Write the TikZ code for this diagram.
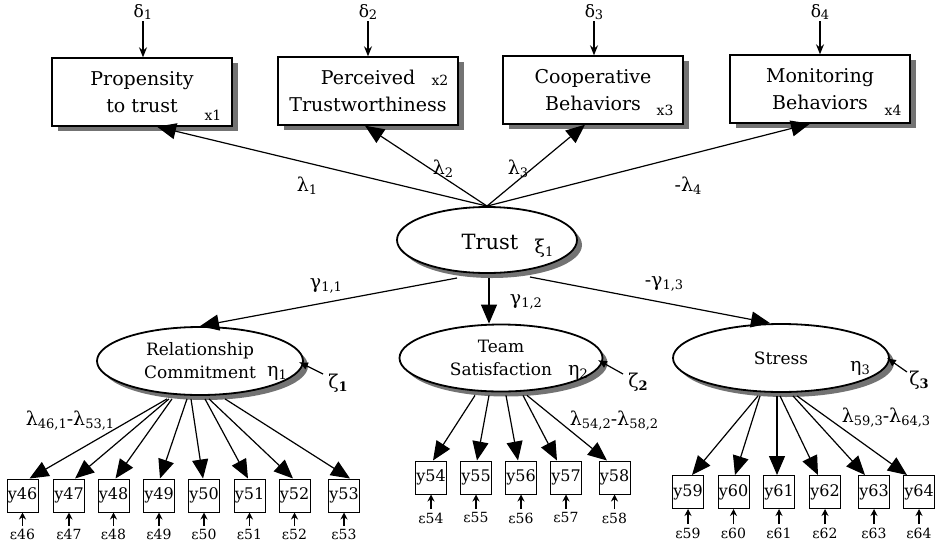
\documentclass[tikz,border=0pt]{standalone}
\usepackage{fontspec}
\setmainfont{DejaVu Serif}
\usetikzlibrary{arrows.meta,shapes.geometric,shadows,calc}
% lowered, smaller index after a Greek letter
\newcommand\lsub[1]{\raisebox{-0.3ex}{\fontsize{13}{13}\selectfont #1}}

\begin{document}
\begin{tikzpicture}[x=1pt,y=-1pt,
  obs/.style={draw, line width=1.4pt, fill=white, minimum width=180pt,
    minimum height=68pt, align=center, inner sep=0pt,
    font=\fontsize{19}{27}\selectfont,
    drop shadow={shadow xshift=6pt, shadow yshift=-5pt, fill=black!55, opacity=1}},
  lat/.style={ellipse, draw, line width=1.8pt, fill=white, inner sep=0pt,
    align=center, font=\fontsize{17}{23}\selectfont,
    drop shadow={shadow xshift=5pt, shadow yshift=-5pt, fill=black!55, opacity=1}},
  ind/.style={draw, line width=1pt, fill=white, minimum width=31pt,
    minimum height=33pt, inner sep=0pt, font=\fontsize{16}{16}\selectfont},
  err/.style={inner sep=0pt, font=\fontsize{14}{14}\selectfont},
  coef/.style={inner sep=0pt, font=\fontsize{19}{19}\selectfont},
  greek/.style={inner sep=0pt, font=\fontsize{19}{19}\selectfont},
  small/.style={inner sep=0pt, font=\fontsize{14}{14}\selectfont},
  load/.style={line width=1.2pt, -{Triangle[length=19pt,width=16pt]}},
  darr/.style={line width=1.1pt, -{Stealth[length=10pt,width=8pt]}},
  earr/.style={line width=1.1pt, -{Stealth[length=7pt,width=7pt]}},
  zarr/.style={line width=1.2pt, -{Latex[length=9pt,width=8pt]}}
]
\useasboundingbox (0,0) rectangle (940,544);

% observed trust indicators
\node[obs] (b1) at (142,92) {Propensity\\to trust};
\node[obs] (b2) at (368,91) {Perceived\\Trustworthiness};
\node[obs] (b3) at (593,90) {Cooperative\\Behaviors};
\node[obs] (b4) at (820,89) {Monitoring\\Behaviors};
\node[small] (x1) at (213,115) {x1};
\node[small] (x2) at (440,80) {x2};
\node[small] (x3) at (665,110) {x3};
\node[small] (x4) at (893,110) {x4};

% measurement errors of the indicators
\foreach \i/\x in {1/143,2/368,3/594,4/820}{
  \node[inner sep=1pt, font=\fontsize{17}{17}\selectfont] (d\i) at (\x,12) {δ\lsub{\i}};
  \draw[darr] (d\i.south) -- (d\i.south |- b\i.north);
}

% latent variables
\node[lat, minimum width=180pt, minimum height=66pt] (trust) at (487,240) {};
\node[inner sep=0pt, font=\fontsize{21}{21}\selectfont] (trusttxt) at (490,242) {Trust};
\node[greek] (xi) at (544,248) {ξ\lsub{1}};

\node[lat, minimum width=206pt, minimum height=68pt] (rc) at (200,361) {Relationship\\Commitment};
\node[lat, minimum width=203pt, minimum height=67pt] (team) at (501,358) {Team\\Satisfaction};
\node[lat, minimum width=216pt, minimum height=68pt] (stress) at (781,358) {Stress};

\node[greek] (eta1) at (277,373) {η\lsub{1}};
\node[greek] (eta2) at (578,372) {η\lsub{2}};
\node[greek] (eta3) at (860,368) {η\lsub{3}};

\node[greek] (z1) at (338,383) {ζ\raisebox{-0.3ex}{\fontsize{13}{13}\selectfont\bfseries 1}};
\node[greek] (z2) at (638,382) {ζ\raisebox{-0.3ex}{\fontsize{13}{13}\selectfont\bfseries 2}};
\node[greek] (z3) at (919,380) {ζ\raisebox{-0.3ex}{\fontsize{13}{13}\selectfont\bfseries 3}};
\draw[zarr] ($(z1)+(-15,-9)$) -- ($(rc)+(99,1)$);
\draw[zarr] ($(z2)+(-15,-8)$) -- ($(team)+(97,2)$);
\draw[zarr] ($(z3)+(-12,-8)$) -- ($(stress)+(106,0)$);

% loadings of the trust indicators
\draw[load] (trust.north) -- ([xshift=15pt]b1.south);
\draw[load] (trust.north) -- ([xshift=-3pt]b2.south);
\draw[load] (trust.north) -- ([xshift=-8pt]b3.south);
\draw[load] (trust.north) -- ([xshift=-10pt]b4.south);
\node[coef] (l1) at (307,186) {λ\lsub{1}};
\node[coef] (l2) at (443,169) {λ\lsub{2}};
\node[coef] (l3) at (518,169) {λ\lsub{3}};
\node[coef] (l4) at (688,186) {-λ\lsub{4}};

% structural paths
\draw[load] ($(trust.center)+(-30,38)$) -- (rc.north);
\draw[load] ($(trust.center)+(2,38)$) -- ($(team.north)+(-12,0)$);
\draw[load] ($(trust.center)+(43,37)$) -- ($(stress.north)+(-11,0)$);
\node[coef] (g1) at (326,286) {γ\lsub{1,1}};
\node[coef] (g2) at (526,302) {γ\lsub{1,2}};
\node[coef] (g3) at (664,284) {-γ\lsub{1,3}};

% relationship commitment items
\foreach \n/\x/\o/\t in {46/22.5/-33/7, 47/69/-31/6, 48/113.5/-28/2, 49/159/-13/1,
                         50/204/-9/-1, 51/249.5/5/-1.5, 52/294.5/9/-1.5, 53/344/25/6}{
  \node[ind] (y\n) at (\x,495.5) {y\n};
  \node[err] (e\n) at (\x,534) {ε\n};
  \draw[earr] ($(e\n.center)+(0,-8)$) -- (y\n.south);
  \draw[load] ($(rc.south)+(\o,3)$) -- ($(y\n.north)+(\t,0)$);
}
\node[coef] (lrc) at (70,421) {λ\lsub{46,1}-λ\lsub{53,1}};

% team satisfaction items
\foreach \n/\x/\o/\t in {54/431/-26/2, 55/476/-12/1, 56/521/5/-3, 57/566/22/-9, 58/614.5/26/-7.5}{
  \node[ind] (y\n) at (\x,477.5) {y\n};
  \node[err] (e\n) at (\x,518) {ε\n};
  \draw[earr] ($(e\n.center)+(0,-9)$) -- (y\n.south);
  \draw[load] ($(team.south)+(\o,3)$) -- ($(y\n.north)+(\t,0)$);
}
\node[coef] (lts) at (614,421) {λ\lsub{54,2}-λ\lsub{58,2}};

% stress items
\foreach \n/\x/\o/\t in {59/688/-23/4, 60/733.5/-21/1.5, 61/779/-4/-2, 62/825/-1/-7,
                         63/874/12/-9, 64/919/16/-12}{
  \node[ind] (y\n) at (\x,492) {y\n};
  \node[err] (e\n) at (\x,533) {ε\n};
  \draw[earr] ($(e\n.center)+(0,-9)$) -- (y\n.south);
  \draw[load] ($(stress.south)+(\o,3)$) -- ($(y\n.north)+(\t,0)$);
}
\node[coef] (lst) at (886,418) {λ\lsub{59,3}-λ\lsub{64,3}};
\end{tikzpicture}
\end{document}
